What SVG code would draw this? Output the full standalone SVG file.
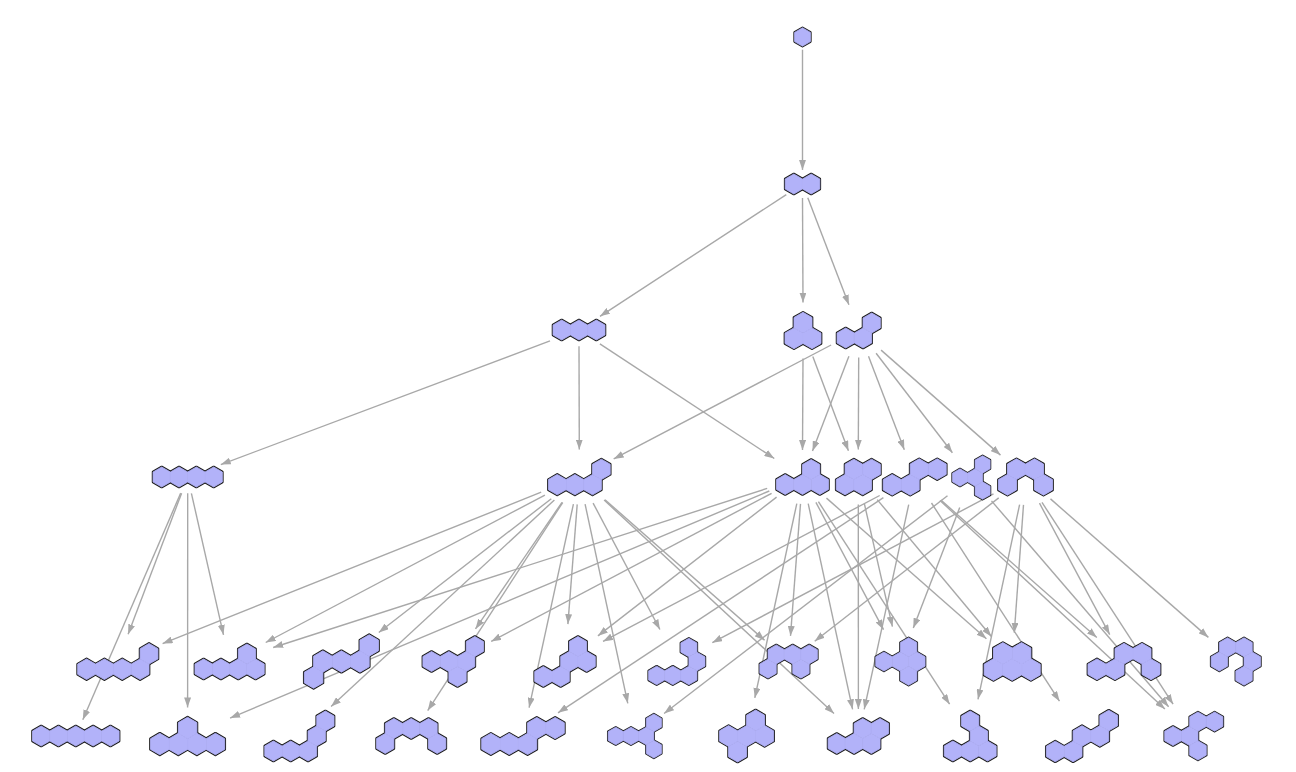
<svg xmlns="http://www.w3.org/2000/svg" xmlns:xlink="http://www.w3.org/1999/xlink" width="1296" height="772" viewBox="0 0 1296 772">
<style>
.o{fill:#b2b2f9;stroke:#1c1c1c;stroke-width:2.6;stroke-linejoin:round}
.f{fill:#b2b2f9;stroke:#b2b2f9;stroke-width:0.8;stroke-linejoin:round}
.e line{stroke:#a8a8a8;stroke-width:1.4;fill:none;marker-end:url(#a)}
</style>
<defs>
<marker id="a" viewBox="0 0 10 7" refX="10" refY="3.5" markerWidth="10" markerHeight="7" markerUnits="userSpaceOnUse" orient="auto"><path d="M0,0L10,3.5L0,7z" fill="#a8a8a8"/></marker>
<polygon id="h" points="0,-10 8.66,-5 8.66,5 0,10 -8.66,5 -8.66,-5"/>
<g id="s1"><use href="#h"/></g>
<g id="s2"><use href="#h" x="-8.66"/><use href="#h" x="8.66"/></g>
<g id="sL3"><use href="#h" x="-17.32"/><use href="#h"/><use href="#h" x="17.32"/></g>
<g id="sT3"><use href="#h" y="-7.5"/><use href="#h" x="-8.66" y="7.5"/><use href="#h" x="8.66" y="7.5"/></g>
<g id="sB3"><use href="#h" x="-12.99" y="7.5"/><use href="#h" x="4.33" y="7.5"/><use href="#h" x="12.99" y="-7.5"/></g>
<g id="sBar"><use href="#h" x="-25.98"/><use href="#h" x="-8.66"/><use href="#h" x="8.66"/><use href="#h" x="25.98"/></g>
<g id="sHook"><use href="#h" x="-21.65" y="7.5"/><use href="#h" x="-4.33" y="7.5"/><use href="#h" x="12.99" y="7.5"/><use href="#h" x="21.65" y="-7.5"/></g>
<g id="sPis"><use href="#h" x="-17.32" y="7.5"/><use href="#h" y="7.5"/><use href="#h" x="17.32" y="7.5"/><use href="#h" x="8.66" y="-7.5"/></g>
<g id="sBee"><use href="#h" x="-12.99" y="7.5"/><use href="#h" x="4.33" y="7.5"/><use href="#h" x="-4.33" y="-7.5"/><use href="#h" x="12.99" y="-7.5"/></g>
<g id="sZig"><use href="#h" x="-21.65" y="7.5"/><use href="#h" x="-4.33" y="7.5"/><use href="#h" x="4.33" y="-7.5"/><use href="#h" x="21.65" y="-7.5"/></g>
<g id="sProp"><use href="#h" x="-12.99"/><use href="#h" x="4.33"/><use href="#h" x="12.99" y="-15"/><use href="#h" x="12.99" y="15"/></g>
<g id="sArch"><use href="#h" x="-17.32" y="7.5"/><use href="#h" x="-8.66" y="-7.5"/><use href="#h" x="8.66" y="-7.5"/><use href="#h" x="17.32" y="7.5"/></g>
<g id="p51"><use href="#h" x="-30.31" y="7.5"/><use href="#h" x="-12.99" y="7.5"/><use href="#h" x="4.33" y="7.5"/><use href="#h" x="21.65" y="7.5"/><use href="#h" x="30.31" y="-7.5"/></g>
<g id="p52"><use href="#h" x="-25.98" y="7.5"/><use href="#h" x="-8.66" y="7.5"/><use href="#h" x="8.66" y="7.5"/><use href="#h" x="25.98" y="7.5"/><use href="#h" x="17.32" y="-7.5"/></g>
<g id="p53"><use href="#h" x="-25.98" y="15"/><use href="#h" x="-17.32"/><use href="#h"/><use href="#h" x="17.32"/><use href="#h" x="25.98" y="-15"/></g>
<g id="p54"><use href="#h" x="-21.65"/><use href="#h" x="-4.33"/><use href="#h" x="12.99"/><use href="#h" x="21.65" y="-15"/><use href="#h" x="4.33" y="15"/></g>
<g id="p55"><use href="#h" x="-21.65" y="15"/><use href="#h" x="-4.33" y="15"/><use href="#h" x="4.33"/><use href="#h" x="21.65"/><use href="#h" x="12.99" y="-15"/></g>
<g id="p56"><use href="#h" x="-21.65" y="15"/><use href="#h" x="-4.33" y="15"/><use href="#h" x="12.99" y="15"/><use href="#h" x="21.65"/><use href="#h" x="12.99" y="-15"/></g>
<g id="p57"><use href="#h" x="-21.65" y="7.5"/><use href="#h" x="-12.99" y="-7.5"/><use href="#h" x="4.33" y="-7.5"/><use href="#h" x="21.65" y="-7.5"/><use href="#h" x="12.99" y="7.5"/></g>
<g id="p58"><use href="#h" x="-17.32"/><use href="#h"/><use href="#h" x="17.32"/><use href="#h" x="8.66" y="-15"/><use href="#h" x="8.66" y="15"/></g>
<g id="p59"><use href="#h" x="-17.32" y="7.5"/><use href="#h" y="7.5"/><use href="#h" x="17.32" y="7.5"/><use href="#h" x="-8.66" y="-7.5"/><use href="#h" x="8.66" y="-7.5"/></g>
<g id="p510"><use href="#h" x="-25.98" y="7.5"/><use href="#h" x="-8.66" y="7.5"/><use href="#h" y="-7.5"/><use href="#h" x="17.32" y="-7.5"/><use href="#h" x="25.98" y="7.5"/></g>
<g id="p511"><use href="#h" x="-17.32"/><use href="#h" x="-8.66" y="-15"/><use href="#h" x="8.66" y="-15"/><use href="#h" x="17.32"/><use href="#h" x="8.66" y="15"/></g>
<g id="p61"><use href="#h" x="-34.64"/><use href="#h" x="-17.32"/><use href="#h"/><use href="#h" x="17.32"/><use href="#h" x="34.64"/></g>
<g id="p62"><use href="#h" x="-25.98" y="7.5"/><use href="#h" x="-8.66" y="7.5"/><use href="#h" x="8.66" y="7.5"/><use href="#h" x="25.98" y="7.5"/><use href="#h" y="-7.5"/></g>
<g id="p63"><use href="#h" x="-25.98" y="15"/><use href="#h" x="-8.66" y="15"/><use href="#h" x="8.66" y="15"/><use href="#h" x="17.32"/><use href="#h" x="25.98" y="-15"/></g>
<g id="p64"><use href="#h" x="-25.98" y="7.5"/><use href="#h" x="-17.32" y="-7.5"/><use href="#h" y="-7.5"/><use href="#h" x="17.32" y="-7.5"/><use href="#h" x="25.98" y="7.5"/></g>
<g id="p65"><use href="#h" x="-30.31" y="7.5"/><use href="#h" x="-12.99" y="7.5"/><use href="#h" x="4.33" y="7.5"/><use href="#h" x="12.99" y="-7.5"/><use href="#h" x="30.31" y="-7.5"/></g>
<g id="p66"><use href="#h" x="-21.65"/><use href="#h" x="-4.33"/><use href="#h" x="12.99"/><use href="#h" x="21.65" y="-15"/><use href="#h" x="21.65" y="15"/></g>
<g id="p67"><use href="#h" x="-17.32"/><use href="#h"/><use href="#h" x="17.32"/><use href="#h" x="8.66" y="-15"/><use href="#h" x="-8.66" y="15"/></g>
<g id="p68"><use href="#h" x="-21.65" y="7.5"/><use href="#h" x="-4.33" y="7.5"/><use href="#h" x="12.99" y="7.5"/><use href="#h" x="4.33" y="-7.5"/><use href="#h" x="21.65" y="-7.5"/></g>
<g id="p69"><use href="#h" x="-17.32" y="15"/><use href="#h" y="15"/><use href="#h" x="17.32" y="15"/><use href="#h" x="8.66"/><use href="#h" y="-15"/></g>
<g id="p610"><use href="#h" x="-25.98" y="15"/><use href="#h" x="-8.66" y="15"/><use href="#h"/><use href="#h" x="17.32"/><use href="#h" x="25.98" y="-15"/></g>
<g id="p611"><use href="#h" x="-21.65"/><use href="#h" x="-4.33"/><use href="#h" x="4.33" y="-15"/><use href="#h" x="21.65" y="-15"/><use href="#h" x="4.33" y="15"/></g>
</defs>
<rect width="1296" height="772" fill="#ffffff"/>
<g id="connectors" class="e">
<line x1="802.5" y1="49.7" x2="802.5" y2="169.9"/>
<line x1="786.3" y1="194.6" x2="600" y2="316.3"/>
<line x1="802.5" y1="198.1" x2="803" y2="302.6"/>
<line x1="807.8" y1="197.8" x2="848.9" y2="304.8"/>
<line x1="550" y1="340.9" x2="220.8" y2="464.6"/>
<line x1="579" y1="346.3" x2="579.3" y2="449.6"/>
<line x1="599.9" y1="343.8" x2="774.3" y2="458.5"/>
<line x1="803" y1="358.4" x2="802.5" y2="450.1"/>
<line x1="812.8" y1="356.6" x2="848.4" y2="450.8"/>
<line x1="831.1" y1="345" x2="613.7" y2="458.9"/>
<line x1="848.9" y1="356.2" x2="812.5" y2="451"/>
<line x1="858.7" y1="357.4" x2="858.3" y2="449.6"/>
<line x1="868.5" y1="356.2" x2="904.3" y2="449.8"/>
<line x1="876.1" y1="353.3" x2="952.4" y2="452.8"/>
<line x1="881.1" y1="350.1" x2="1000.5" y2="455.1"/>
<line x1="181.6" y1="493.2" x2="128.1" y2="634.3"/>
<line x1="191.4" y1="493.3" x2="223.5" y2="634.8"/>
<line x1="180.7" y1="493.1" x2="82.8" y2="719.8"/>
<line x1="187.7" y1="493.3" x2="187.6" y2="707.4"/>
<line x1="541.2" y1="492.2" x2="162.6" y2="643.6"/>
<line x1="544.9" y1="495.1" x2="265.7" y2="642.5"/>
<line x1="551.3" y1="498.7" x2="378.8" y2="632.5"/>
<line x1="562" y1="502.4" x2="475.5" y2="628.9"/>
<line x1="577.2" y1="504.4" x2="567.9" y2="624.1"/>
<line x1="593.1" y1="503.1" x2="659.9" y2="629.5"/>
<line x1="605" y1="499.7" x2="764.6" y2="640.3"/>
<line x1="554.4" y1="500" x2="331.1" y2="706.6"/>
<line x1="562.7" y1="502.5" x2="427.7" y2="710.6"/>
<line x1="573.4" y1="504.2" x2="529.1" y2="707.7"/>
<line x1="585.1" y1="504.2" x2="627.8" y2="703.3"/>
<line x1="604.1" y1="500" x2="834" y2="713.4"/>
<line x1="767.2" y1="488.4" x2="273.2" y2="647.5"/>
<line x1="771.6" y1="493.3" x2="491.2" y2="641.4"/>
<line x1="776.6" y1="497.1" x2="597.9" y2="635.9"/>
<line x1="800.5" y1="503.9" x2="790.5" y2="635.9"/>
<line x1="815.9" y1="502.3" x2="883.5" y2="629.7"/>
<line x1="826.5" y1="498.1" x2="986.4" y2="638.8"/>
<line x1="769.3" y1="491" x2="230.1" y2="718.1"/>
<line x1="796.8" y1="503.6" x2="754.8" y2="697.9"/>
<line x1="808.2" y1="503.6" x2="852.6" y2="709.3"/>
<line x1="818.4" y1="501.6" x2="949.6" y2="704.2"/>
<line x1="864.4" y1="503.9" x2="892.4" y2="626.6"/>
<line x1="877.2" y1="499.6" x2="991.4" y2="636.5"/>
<line x1="858.3" y1="504.4" x2="858.4" y2="709.1"/>
<line x1="879.7" y1="495.5" x2="603" y2="641.4"/>
<line x1="940.9" y1="500.1" x2="1096.8" y2="637.6"/>
<line x1="883.4" y1="497.7" x2="558" y2="712.8"/>
<line x1="908.7" y1="504.7" x2="864.2" y2="709.3"/>
<line x1="931.5" y1="503" x2="1059.5" y2="701.2"/>
<line x1="940" y1="500.5" x2="1164.9" y2="709.1"/>
<line x1="959.7" y1="507.6" x2="913.3" y2="628.1"/>
<line x1="947.5" y1="495.8" x2="664.1" y2="713.5"/>
<line x1="991.5" y1="500.9" x2="1168.6" y2="706.7"/>
<line x1="993.5" y1="493.9" x2="712.3" y2="642.7"/>
<line x1="998.7" y1="497.9" x2="814.7" y2="641.2"/>
<line x1="1023.5" y1="504.9" x2="1014.3" y2="632.7"/>
<line x1="1039.5" y1="503.2" x2="1109.7" y2="634.6"/>
<line x1="1050.5" y1="498.9" x2="1208.4" y2="637.4"/>
<line x1="1019.6" y1="504.6" x2="978" y2="699.3"/>
<line x1="1042" y1="502.4" x2="1173.1" y2="704.2"/>
</g>
<g id="n_root" transform="translate(802.5,37) scale(0.92)"><use href="#s1" class="o"/><use href="#s1" class="f"/></g>
<g id="n_dihex" transform="translate(802.5,184)"><use href="#s2" class="o"/><use href="#s2" class="f"/></g>
<g id="n_tri_line" transform="translate(579,330)"><use href="#sL3" class="o"/><use href="#sL3" class="f"/></g>
<g id="n_tri_triangle" transform="translate(803,330.5) scale(1.04)"><use href="#sT3" class="o"/><use href="#sT3" class="f"/></g>
<g id="n_tri_bent" transform="translate(858.7,330.5)"><use href="#sB3" class="o"/><use href="#sB3" class="f"/></g>
<g id="n_tetra_bar" transform="translate(187.7,477)"><use href="#sBar" class="o"/><use href="#sBar" class="f"/></g>
<g id="n_tetra_hook" transform="translate(579.3,477) scale(1.02)"><use href="#sHook" class="o"/><use href="#sHook" class="f"/></g>
<g id="n_tetra_pistol" transform="translate(802.5,477)"><use href="#sPis" class="o"/><use href="#sPis" class="f"/></g>
<g id="n_tetra_bee" transform="translate(858.3,477) scale(1.02)"><use href="#sBee" class="o"/><use href="#sBee" class="f"/></g>
<g id="n_tetra_wave" transform="translate(914.7,477) scale(1.04)"><use href="#sZig" class="o"/><use href="#sZig" class="f"/></g>
<g id="n_tetra_propeller" transform="translate(971.3,477.5) scale(0.87)"><use href="#sProp" class="o"/><use href="#sProp" class="f"/></g>
<g id="n_tetra_arch" transform="translate(1025.5,477) scale(1.04)"><use href="#sArch" class="o"/><use href="#sArch" class="f"/></g>
<g id="n_p5_1" transform="translate(117.8,661.5) scale(1.03)"><use href="#p51" class="o"/><use href="#p51" class="f"/></g>
<g id="n_p5_2" transform="translate(229.6,661.5)"><use href="#p52" class="o"/><use href="#p52" class="f"/></g>
<g id="n_p5_3" transform="translate(341.4,661.5) scale(1.07)"><use href="#p53" class="o"/><use href="#p53" class="f"/></g>
<g id="n_p5_4" transform="translate(453.2,661.5)"><use href="#p54" class="o"/><use href="#p54" class="f"/></g>
<g id="n_p5_5" transform="translate(565,661.5)"><use href="#p55" class="o"/><use href="#p55" class="f"/></g>
<g id="n_p5_6" transform="translate(676.8,661.5) scale(0.93)"><use href="#p56" class="o"/><use href="#p56" class="f"/></g>
<g id="n_p5_7" transform="translate(788.6,661.5) scale(0.95)"><use href="#p57" class="o"/><use href="#p57" class="f"/></g>
<g id="n_p5_8" transform="translate(900.4,661.5) scale(0.95)"><use href="#p58" class="o"/><use href="#p58" class="f"/></g>
<g id="n_p5_9" transform="translate(1012.2,661.5) scale(1.08)"><use href="#p59" class="o"/><use href="#p59" class="f"/></g>
<g id="n_p5_10" transform="translate(1124,661.5) scale(1.04)"><use href="#p510" class="o"/><use href="#p510" class="f"/></g>
<g id="n_p5_11" transform="translate(1235.8,661.5) scale(0.95)"><use href="#p511" class="o"/><use href="#p511" class="f"/></g>
<g id="n_p6_1" transform="translate(75.8,736)"><use href="#p61" class="o"/><use href="#p61" class="f"/></g>
<g id="n_p6_2" transform="translate(187.6,736) scale(1.07)"><use href="#p62" class="o"/><use href="#p62" class="f"/></g>
<g id="n_p6_3" transform="translate(299.4,736)"><use href="#p63" class="o"/><use href="#p63" class="f"/></g>
<g id="n_p6_4" transform="translate(411.2,736)"><use href="#p64" class="o"/><use href="#p64" class="f"/></g>
<g id="n_p6_5" transform="translate(523,736) scale(1.06)"><use href="#p65" class="o"/><use href="#p65" class="f"/></g>
<g id="n_p6_6" transform="translate(634.8,736) scale(0.88)"><use href="#p66" class="o"/><use href="#p66" class="f"/></g>
<g id="n_p6_7" transform="translate(746.6,736) scale(1.04)"><use href="#p67" class="o"/><use href="#p67" class="f"/></g>
<g id="n_p6_8" transform="translate(858.4,736)"><use href="#p68" class="o"/><use href="#p68" class="f"/></g>
<g id="n_p6_9" transform="translate(970.2,736)"><use href="#p69" class="o"/><use href="#p69" class="f"/></g>
<g id="n_p6_10" transform="translate(1082,736) scale(1.03)"><use href="#p610" class="o"/><use href="#p610" class="f"/></g>
<g id="n_p6_11" transform="translate(1193.8,736) scale(0.96)"><use href="#p611" class="o"/><use href="#p611" class="f"/></g>
</svg>
